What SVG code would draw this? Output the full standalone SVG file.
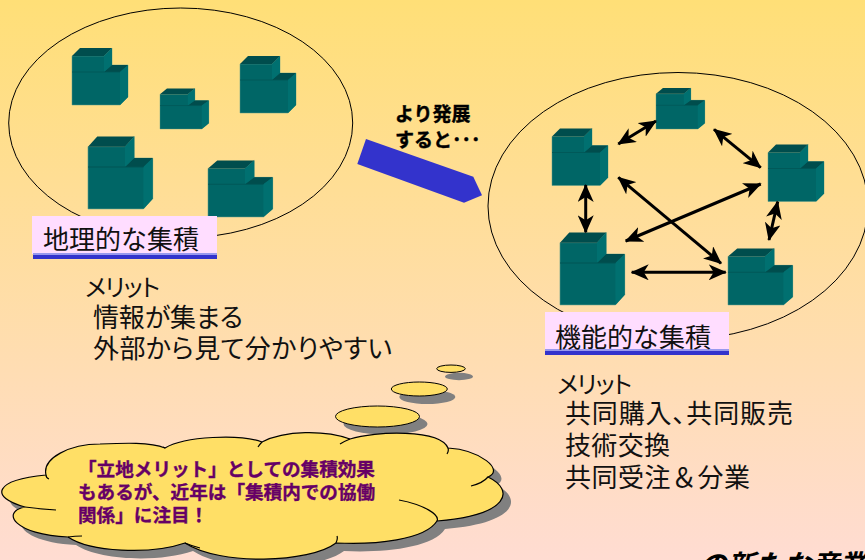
<svg xmlns="http://www.w3.org/2000/svg" width="865" height="560" viewBox="0 0 865 560">
<style>
text{font-family:"Noto Sans CJK JP","Noto Sans CJK SC",sans-serif;fill:#111}
.t{font-size:26px;font-feature-settings:"palt"}
.n{font-size:26px}
.h{font-size:26px}
.b{font-size:19px;font-weight:700;fill:#000;stroke:#000;stroke-width:.4}
.c{font-size:18.6px;font-weight:700;fill:#660066;stroke:#660066;stroke-width:.35}
.e{fill:none;stroke:#000;stroke-width:1}
.p{fill:#ffddff}
.u1{fill:#3333cc}
.u2{fill:#9999ee}
.cf{fill:#ffdf66}
.cs{stroke:#000;stroke-width:1.2;fill:none}
.sh{fill:#808080}
.a{stroke:#000;stroke-width:3;fill:none;marker-start:url(#ah);marker-end:url(#ah)}
</style>
<defs>
<linearGradient id="bg" x1="0" y1="0" x2="0" y2="1"><stop offset="0" stop-color="#ffdf77"/><stop offset="1" stop-color="#ffdcd2"/></linearGradient>
<marker id="ah" viewBox="0 0 18 16" refX="17" refY="8" markerWidth="18" markerHeight="16" markerUnits="userSpaceOnUse" orient="auto-start-reverse"><path d="M0 0L18 8L0 16L5 8Z" fill="#000"/></marker>
<g id="blk">
<path d="M0 8H32L40 0V17L48 17L56 17V49L48 57H0Z" fill="#006666" stroke="#5a9a88" stroke-width=".5"/>
<path d="M0 8L8 0H40L32 8Z" fill="#004d4d"/>
<path d="M32 24L40 17H56L48 24Z" fill="#004d4d"/>
<path d="M32 8L40 0V17L32 24Z" fill="#007070"/>
<path d="M48 24L56 17V49L48 57Z" fill="#007070"/>
<path d="M0 24H48" stroke="#005555" stroke-width=".8" fill="none"/>
</g>
</defs>
<rect width="865" height="560" fill="url(#bg)"/>
<ellipse class="e" cx="180.7" cy="123" rx="172" ry="115"/>
<ellipse class="e" cx="678" cy="206" rx="190" ry="133.5"/>
<g id="n1"><use href="#blk" transform="translate(72 48)"/></g>
<g id="n2"><use href="#blk" transform="translate(160 88.5) scale(.87 .71)"/></g>
<g id="n3"><use href="#blk" transform="translate(240 56)"/></g>
<g id="n4"><use href="#blk" transform="translate(88 136.5) scale(1.155 1.27)"/></g>
<g id="n5"><use href="#blk" transform="translate(208 160.5) scale(1.155 .99)"/></g>
<g id="n6"><use href="#blk" transform="translate(656 88) scale(.87 .72)"/></g>
<g id="n7"><use href="#blk" transform="translate(552 128.5)"/></g>
<g id="n8"><use href="#blk" transform="translate(768 144.5)"/></g>
<g id="n9"><use href="#blk" transform="translate(560 232.5) scale(1.155 1.27)"/></g>
<g id="n10"><use href="#blk" transform="translate(728 248.5) scale(1.155 .99)"/></g>
<g id="connectors">
<path class="a" d="M618.3 144L656 121"/>
<path class="a" d="M714 129.3L760.7 167.7"/>
<path class="a" d="M777.7 201.7L769 240"/>
<path class="a" d="M631.7 272.3H725.7"/>
<path class="a" d="M585.7 185V232.3"/>
<path class="a" d="M618.3 177.3L721 263.3"/>
<path class="a" d="M760.7 184L625.7 241"/>
</g>
<g id="develop-arrow"><polygon points="366,139 357.3,164 464,202.7 482,195.3 473.3,176.7" fill="#3333cc"/>
<text class="b" x="395" y="121">より発展</text><text class="b" x="395" y="147">すると･･･</text></g>
<g id="label-geo"><rect class="p" x="32" y="216" width="185" height="38"/><rect class="u2" x="33" y="253" width="184" height="2"/><rect class="u1" x="33" y="255" width="184" height="4"/><text class="h" x="43" y="249">地理的な集積</text></g>
<g id="label-func"><rect class="p" x="545" y="312" width="184" height="38"/><rect class="u2" x="545" y="349" width="184" height="2"/><rect class="u1" x="545" y="351" width="184" height="4"/><text class="h" x="555" y="347">機能的な集積</text></g>
<g id="list-geo"><text class="t" x="85" y="296" style="font-size:24px" textLength="75">メリット</text><text class="t" x="93" y="327" textLength="150">情報が集まる</text><text class="t" x="93" y="358" textLength="299">外部から見て分かりやすい</text></g>
<g id="list-func"><text class="t" x="557" y="393" style="font-size:24px" textLength="75">メリット</text><text class="t" x="565" y="423" textLength="228">共同購入、共同販売</text><text class="n" x="565" y="455" textLength="105">技術交換</text><text class="n" x="565" y="487" textLength="185">共同受注＆分業</text></g>
<g id="thought">
<ellipse class="sh" cx="459" cy="376.5" rx="14" ry="3.7"/><ellipse class="sh" cx="427.3" cy="397" rx="28" ry="7"/><ellipse class="sh" cx="385.5" cy="424" rx="42" ry="10.5"/>
<ellipse class="cf" cx="451" cy="368.7" rx="14.3" ry="3.7" stroke="#000"/><ellipse class="cf" cx="419.3" cy="389" rx="28" ry="7" stroke="#000"/><ellipse class="cf" cx="377.5" cy="416.5" rx="42" ry="10.5" stroke="#000"/>
<path class="sh" transform="translate(8 8)" d="M46 475C42 458 70 444 100 444C125 443 150 442 165 448C185 436 240 434 262 442C285 430 325 430 350 439C375 431 440 429 448 448C480 450 505 470 488 477C515 490 510 515 437 521C425 540 375 545 336 543C310 563 220 566 185 543C150 555 90 552 68 537C15 535 0 512 25 507C-11 497 -6 480 46 475Z"/>
<path class="cf" stroke="#000" stroke-width="1.2" d="M46 475C42 458 70 444 100 444C125 443 150 442 165 448C185 436 240 434 262 442C285 430 325 430 350 439C375 431 440 429 448 448C480 450 505 470 488 477C515 490 510 515 437 521C425 540 375 545 336 543C310 563 220 566 185 543C150 555 90 552 68 537C15 535 0 512 25 507C-11 497 -6 480 46 475Z"/>
<path class="cs" d="M46 475Q46 478 49 479M165 448L163 447M258 447Q260 444 262 442M340 444Q345 441 350 439M448 448Q449 451 447 454M488 477Q483 483 471 486M399 500C425 505 440 515 437 521M337 536Q338 539 336 543M185 543Q192 546 200 548M68 537Q75 536 82 536M25 507Q40 509 56 510"/>
<text class="c" x="78" y="475.5">「立地メリット」としての集積効果</text>
<text class="c" x="78" y="498.5">もあるが、近年は「集積内での協働</text>
<text class="c" x="78" y="521.5">関係」に注目！</text>
</g>
<text x="699" y="575" style="font-size:28px;font-weight:700;font-style:italic;fill:#000">の新たな産業</text>
</svg>
